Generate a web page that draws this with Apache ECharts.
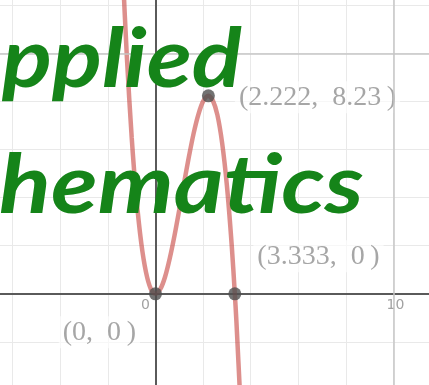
<!DOCTYPE html>
<html>
<head>
<meta charset="utf-8">
<script src="https://cdn.jsdelivr.net/npm/echarts@6/dist/echarts.min.js"></script>
<style>
  html, body { margin: 0; padding: 0; background: #ffffff; }
  #chart { width: 429px; height: 385px; }
</style>
</head>
<body>
<div id="chart"></div>
<script>
// Cubic curve y = f(x), sampled along x
const curveX = [-1.4, -1.2, -1.0, -0.8, -0.6, -0.4, -0.2, 0, 0.2, 0.4, 0.6, 0.8, 1.0, 1.2, 1.4,
                1.6, 1.8, 2.0, 2.222, 2.4, 2.6, 2.8, 3.0, 3.2, 3.333, 3.4, 3.6];
const curveY = [13.92, 9.79, 6.50, 3.97, 2.12, 0.90, 0.21, 0, 0.19, 0.70, 1.48, 2.43, 3.50, 4.61, 5.68,
                6.66, 7.45, 8.00, 8.23, 8.06, 7.44, 6.27, 4.50, 2.05, 0, -1.16, -5.18];

// Marked points: local maximum and the two roots
const pointX = [2.222, 3.333, 0];
const pointY = [8.23, 0, 0];
// math-style spacing after the comma and before the closing bracket
const pointLabels = ['(2.222,  8.23\u2009)', '(3.333,  0\u2009)', '(0,  0\u2009)'];

// Axis tick labels that are printed (value, text)
const tickX = [0, 10];
const tickText = ['0', '10'];

// Overlay title lines
const titleLines = ['pplied', 'hematics'];

const curveData = curveX.map((x, i) => [x, curveY[i]]);

// label placement for each marked point
const labelPlacement = [
  { position: [33, 8], align: 'left' },
  { position: [25, -31], align: 'left' },
  { position: [-9, 45], align: 'right' }
];

const pointData = pointX.map((x, i) => ({
  value: [x, pointY[i]],
  label: {
    show: true,
    formatter: pointLabels[i],
    position: labelPlacement[i].position,
    align: labelPlacement[i].align,
    verticalAlign: 'middle'
  }
}));

// tick label offsets from the axis point
const tickOffset = [[-10, 12], [2, 12]];
const tickData = tickX.map((x, i) => ({
  value: [x, 0],
  label: { formatter: tickText[i], position: tickOffset[i] }
}));

const chart = echarts.init(document.getElementById('chart'), null, { renderer: 'canvas' });

const minorGrid = { color: '#e9e9e9', width: 1 };
const majorGrid = { color: '#c6c6c6', width: 1.5, type: 'solid' };

chart.setOption({
  animation: false,
  backgroundColor: '#ffffff',
  grid: {
    left: -34.9, right: -12.1, top: -42.9, bottom: -5,
    containLabel: false,
    outerBoundsMode: 'none'
  },
  xAxis: {
    type: 'value',
    min: -8, max: 12, interval: 2,
    axisLine: { show: true, onZero: true, lineStyle: { color: '#5a5a5a', width: 2 } },
    axisTick: { show: false },
    splitLine: { show: true, lineStyle: minorGrid },
    axisLabel: { show: false }
  },
  yAxis: {
    type: 'value',
    min: -4, max: 14, interval: 2,
    axisLine: { show: true, onZero: true, lineStyle: { color: '#5a5a5a', width: 2 } },
    axisTick: { show: false },
    splitLine: { show: true, lineStyle: minorGrid },
    axisLabel: { show: false }
  },
  graphic: [
    {
      type: 'text',
      z: 100,
      x: 2, y: 61,
      scaleX: 1.13,
      originX: 0, originY: 61,
      style: {
        text: titleLines[0],
        font: 'italic bold 82px Lato',
        fill: '#158419',
        textAlign: 'left',
        textVerticalAlign: 'middle'
      }
    },
    {
      type: 'text',
      z: 100,
      x: -1, y: 187,
      scaleX: 1.17,
      originX: 0, originY: 187,
      style: {
        text: titleLines[1],
        font: 'italic bold 82px Lato',
        fill: '#158419',
        textAlign: 'left',
        textVerticalAlign: 'middle'
      }
    }
  ],
  series: [
    {
      // major grid lines at 10
      type: 'line',
      data: [],
      silent: true,
      markLine: {
        silent: true,
        symbol: ['none', 'none'],
        label: { show: false },
        lineStyle: majorGrid,
        data: [{ xAxis: 10 }, { yAxis: 10 }]
      },
      z: 1
    },
    {
      type: 'line',
      data: curveData,
      smooth: 0.3,
      showSymbol: false,
      lineStyle: { color: 'rgba(199, 68, 64, 0.6)', width: 4.5 },
      z: 3
    },
    {
      type: 'scatter',
      data: pointData,
      symbolSize: 13,
      itemStyle: { color: '#4f4f4f' },
      label: {
        color: '#909090',
        fontSize: 28,
        fontFamily: 'Liberation Serif',
        backgroundColor: 'rgba(255,255,255,0.8)',
        padding: [2, 4]
      },
      z: 4
    },
    {
      // axis tick labels
      type: 'scatter',
      data: tickData,
      symbolSize: 0,
      label: {
        show: true,
        align: 'center',
        verticalAlign: 'middle',
        color: '#8a8a8a',
        fontSize: 14,
        fontFamily: 'DejaVu Sans'
      },
      z: 2
    }
  ]
});
</script>
</body>
</html>
